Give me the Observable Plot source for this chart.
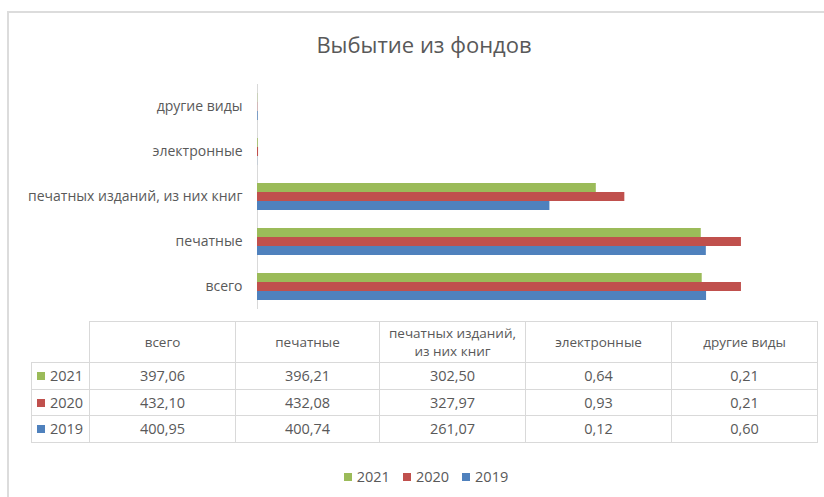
<!DOCTYPE html>
<html>
<head>
<meta charset="utf-8">
<script src="https://cdn.jsdelivr.net/npm/d3@7"></script>
<script src="https://cdn.jsdelivr.net/npm/@observablehq/plot@0.6"></script>
<style>
  html, body { margin: 0; padding: 0; background: #fff; }
  #wrap { position: relative; width: 824px; height: 497px; overflow: hidden; font-family: "Open Sans", sans-serif; color: #595959; }
  #frame { position: absolute; left: 7px; top: 11px; width: 840px; height: 520px; border: 2px solid #DCDCDC; box-sizing: border-box; }
  #title { position: absolute; left: 0; width: 848px; top: 29px; text-align: center; font-size: 22px; color: #595959; }
  #chart { position: absolute; left: 0; top: 0; }
  #tbl { position: absolute; left: 31px; top: 321px; border-collapse: collapse; table-layout: fixed; font-size: 13.5px; color: #595959; }
  #tbl td { border: 1.5px solid #D9D9D9; text-align: center; padding: 0; }
  #tbl tr.head td { height: 40px; line-height: 18px; font-size: 13.5px; }
  #tbl tr.data td { height: 25.5px; font-size: 14.5px; }
  #tbl td.blank { border: none; border-right: 1.5px solid #D9D9D9; border-bottom: 1.5px solid #D9D9D9; }
  #tbl td.rh { text-align: left; padding-left: 5px; font-size: 14.5px; }
  .sw { display: inline-block; width: 8px; height: 8px; margin-right: 5px; vertical-align: 1px; }
  #legend { position: absolute; top: 467px; left: 0; width: 852px; text-align: center; font-size: 14.5px; color: #595959; }
  #legend span.item { margin: 0 6.5px; }
</style>
</head>
<body>
<div id="wrap">
  <div id="frame"></div>
  <div id="title"></div>
  <div id="chart"></div>
  <table id="tbl"></table>
  <div id="legend"></div>
</div>
<script>
const titleText = "Выбытие из фондов";
const categories = ["всего", "печатные", "печатных изданий, из них книг", "электронные", "другие виды"];
const tableHeaders = ["всего", "печатные", "печатных изданий,<br>из них книг", "электронные", "другие виды"];
const years = ["2021", "2020", "2019"];
const colors = ["#9BBB59", "#C0504D", "#4F81BD"];
const values2021 = [397.06, 396.21, 302.50, 0.64, 0.21];
const values2020 = [432.10, 432.08, 327.97, 0.93, 0.21];
const values2019 = [400.95, 400.74, 261.07, 0.12, 0.60];
const seriesValues = [values2021, values2020, values2019];

const rows = [];
years.forEach((yr, i) => categories.forEach((c, j) => rows.push({year: yr, category: c, value: seriesValues[i][j]})));

document.getElementById("title").textContent = titleText;

const chart = Plot.plot({
  width: 824,
  height: 320,
  marginLeft: 257,
  marginRight: 7,
  marginTop: 82,
  marginBottom: 10,
  style: {fontFamily: "Open Sans, sans-serif", fontSize: "14px", color: "#595959", background: "transparent"},
  x: {domain: [0, 500], axis: null},
  fy: {domain: categories.slice().reverse(), padding: 0, axis: "left", label: null, tickSize: 0, tickPadding: 15},
  y: {domain: years, axis: null, paddingInner: 0, paddingOuter: 0.94},
  color: {domain: years, range: colors},
  marks: [
    Plot.ruleX([0], {stroke: "#D9D9D9", strokeWidth: 1}),
    Plot.barX(rows, {fy: "category", y: "year", x: "value", fill: "year"})
  ]
});
document.getElementById("chart").appendChild(chart);

const fmt = v => v.toFixed(2).replace(".", ",");
const tbl = document.getElementById("tbl");
const colW = [58, 146, 144, 146, 146, 146];
const cg = document.createElement("colgroup");
colW.forEach(w => { const c = document.createElement("col"); c.style.width = w + "px"; cg.appendChild(c); });
tbl.appendChild(cg);
let html = '<tr class="head"><td class="blank"></td>' + tableHeaders.map(h => `<td>${h}</td>`).join("") + '</tr>';
years.forEach((yr, i) => {
  html += `<tr class="data"><td class="rh"><span class="sw" style="background:${colors[i]}"></span>${yr}</td>` +
    seriesValues[i].map(v => `<td>${fmt(v)}</td>`).join("") + '</tr>';
});
tbl.insertAdjacentHTML("beforeend", html);

document.getElementById("legend").innerHTML = years.map((yr, i) =>
  `<span class="item"><span class="sw" style="background:${colors[i]}"></span>${yr}</span>`).join("");
</script>
</body>
</html>
